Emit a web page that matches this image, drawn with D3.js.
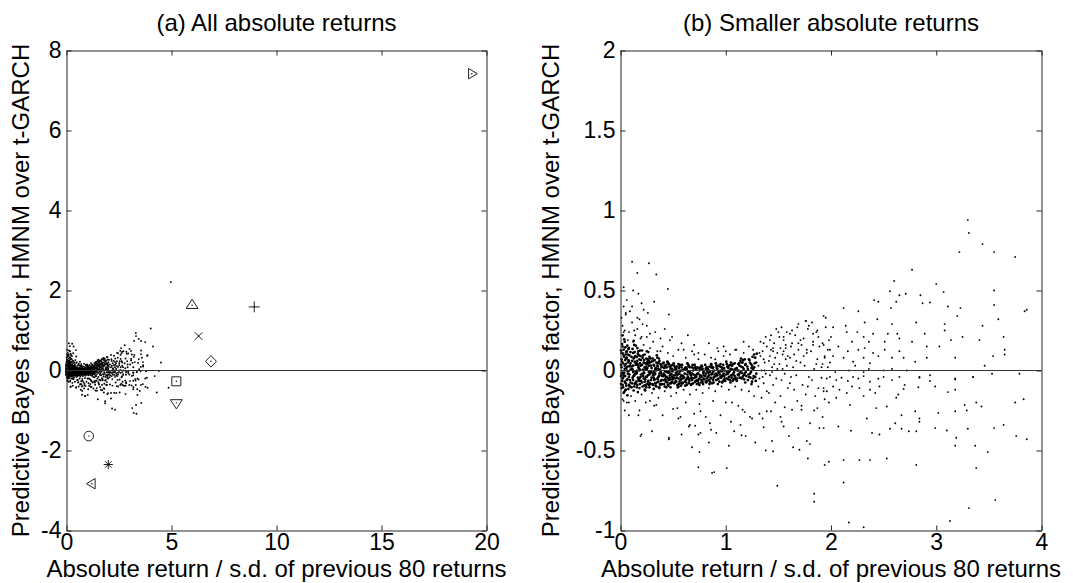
<!DOCTYPE html>
<html>
<head>
<meta charset="utf-8">
<script src="https://cdn.jsdelivr.net/npm/d3@7"></script>
<style>
  body { margin: 0; background: #fff; }
  svg { display: block; font-family: "Liberation Sans", Arial, sans-serif; }
</style>
</head>
<body>
<svg width="1073" height="583"></svg>
<script>
// absolute return / s.d. (x) and predictive Bayes factor (y)

// dense band, x below 0.5
let bandNear = [
  [0.01,0.02],[0.02,-0.05],[0.03,0.09],[0.01,-0.11],[0.04,0.01],[0.05,-0.08],[0.06,0.12],[0.02,0.15],[0.07,-0.02],[0.08,0.06],
  [0.03,-0.03],[0.09,-0.1],[0.05,0.04],[0.06,-0.06],[0.04,0.18],[0.01,0.07],[0.08,-0.04],[0.02,-0.09],[0.07,0.1],[0.09,0.03],
  [0.03,0.13],[0.06,0.0],[0.05,-0.12],[0.01,-0.02],[0.08,0.14],[0.04,-0.07],[0.07,0.05],[0.02,0.22],[0.09,-0.06],[0.06,0.08],
  [0.03,-0.14],[0.05,0.1],[0.08,-0.09],[0.01,0.11],[0.04,0.03],
  [0.11,0.01],[0.12,-0.06],[0.13,0.08],[0.14,-0.02],[0.15,0.04],[0.16,-0.09],[0.17,0.02],[0.18,0.07],[0.19,-0.04],[0.11,-0.08],
  [0.12,0.11],[0.13,-0.03],[0.14,0.05],[0.15,-0.07],[0.16,0.0],[0.17,0.12],[0.18,-0.05],[0.19,0.03],[0.11,0.06],[0.12,-0.01],
  [0.13,-0.1],[0.14,0.09],[0.15,-0.02],[0.16,0.06],[0.17,-0.06],[0.18,0.0],[0.19,0.09],[0.12,0.03],[0.14,-0.08],[0.16,0.14],
  [0.18,-0.11],[0.13,0.16],
  [0.21,-0.02],[0.22,0.05],[0.23,-0.07],[0.24,0.01],[0.25,-0.04],[0.26,0.07],[0.27,-0.01],[0.28,-0.08],[0.29,0.03],[0.21,0.08],
  [0.22,-0.05],[0.23,0.02],[0.24,-0.09],[0.25,0.04],[0.26,-0.03],[0.27,0.06],[0.28,-0.02],[0.29,-0.06],[0.21,-0.1],[0.22,0.0],
  [0.23,0.1],[0.24,-0.04],[0.25,0.01],[0.26,-0.07],[0.27,0.03],[0.28,0.05],[0.29,-0.01],[0.23,-0.12],[0.25,0.12],[0.27,-0.09],
  [0.31,-0.03],[0.32,0.03],[0.33,-0.08],[0.34,0.0],[0.35,-0.05],[0.36,0.05],[0.37,-0.02],[0.38,-0.09],[0.39,0.02],[0.31,0.06],
  [0.32,-0.06],[0.33,0.01],[0.34,-0.1],[0.35,0.03],[0.36,-0.04],[0.37,0.06],[0.38,-0.01],[0.39,-0.06],[0.31,-0.09],[0.33,-0.02],
  [0.35,0.08],[0.36,-0.07],[0.37,-0.11],[0.38,0.04],[0.39,-0.03],[0.32,-0.01],[0.34,0.05],[0.36,0.01],
  [0.41,-0.02],[0.42,0.03],[0.43,-0.07],[0.44,-0.01],[0.45,-0.05],[0.46,0.04],[0.47,-0.03],[0.48,-0.08],[0.49,0.01],[0.41,-0.06],
  [0.42,-0.1],[0.43,0.02],[0.44,-0.04],[0.45,0.05],[0.46,-0.06],[0.47,0.0],[0.48,-0.02],[0.49,-0.07],[0.41,0.05],[0.43,-0.04],
  [0.44,0.02],[0.45,-0.09],[0.46,-0.01],[0.47,-0.08],[0.48,0.03],[0.49,-0.04],[0.42,-0.03]
];

// dense band, x from 0.5 to 1.3
let bandFar = [
  [0.51,-0.03],[0.52,0.02],[0.53,-0.07],[0.54,-0.01],[0.55,-0.05],[0.56,0.03],[0.57,-0.04],[0.58,-0.08],[0.59,0.0],[0.51,-0.08],
  [0.52,-0.05],[0.53,0.01],[0.54,-0.09],[0.55,0.04],[0.56,-0.02],[0.57,-0.06],[0.58,0.02],[0.59,-0.05],[0.51,0.03],[0.53,-0.03],
  [0.55,-0.1],[0.56,-0.07],[0.57,0.0],[0.58,-0.03],[0.59,-0.08],
  [0.61,-0.02],[0.62,-0.06],[0.63,0.01],[0.64,-0.04],[0.65,-0.08],[0.66,0.02],[0.67,-0.03],[0.68,-0.06],[0.69,0.0],[0.61,-0.07],
  [0.62,0.02],[0.63,-0.05],[0.64,-0.01],[0.65,0.03],[0.66,-0.05],[0.67,-0.09],[0.68,-0.02],[0.69,-0.05],[0.61,0.01],[0.63,-0.09],
  [0.64,0.04],[0.66,-0.02],[0.68,0.02],[0.69,-0.08],
  [0.71,-0.03],[0.72,0.01],[0.73,-0.06],[0.74,-0.02],[0.75,-0.05],[0.76,0.02],[0.77,-0.04],[0.78,-0.07],[0.79,-0.01],[0.71,-0.07],
  [0.72,-0.04],[0.73,0.02],[0.74,-0.08],[0.75,0.0],[0.76,-0.03],[0.77,-0.06],[0.78,0.01],[0.79,-0.05],[0.71,0.02],[0.73,-0.02],
  [0.75,-0.09],[0.77,0.03],[0.79,-0.03],
  [0.81,-0.02],[0.82,-0.05],[0.83,0.01],[0.84,-0.03],[0.85,-0.07],[0.86,0.02],[0.87,-0.02],[0.88,-0.06],[0.89,0.0],[0.81,-0.07],
  [0.82,0.02],[0.83,-0.04],[0.84,0.0],[0.85,-0.01],[0.86,-0.05],[0.87,-0.08],[0.88,-0.01],[0.89,-0.04],[0.81,0.01],[0.84,-0.06],
  [0.86,0.04],[0.88,0.02],
  [0.91,-0.02],[0.92,0.01],[0.93,-0.05],[0.94,-0.01],[0.95,-0.04],[0.96,0.02],[0.97,-0.03],[0.98,-0.06],[0.99,0.0],[0.91,-0.06],
  [0.92,-0.03],[0.93,0.03],[0.94,-0.07],[0.95,0.0],[0.96,-0.04],[0.97,0.01],[0.98,-0.02],[0.99,-0.05],[0.91,0.03],[0.93,-0.01],
  [0.95,0.04],[0.97,-0.07],
  [1.01,-0.01],[1.02,0.02],[1.03,-0.04],[1.04,0.0],[1.05,-0.03],[1.06,0.03],[1.07,-0.02],[1.08,-0.05],[1.09,0.01],[1.01,-0.05],
  [1.02,-0.02],[1.03,0.03],[1.04,-0.06],[1.05,0.01],[1.06,-0.03],[1.07,0.04],[1.08,-0.01],[1.09,-0.04],[1.01,0.04],[1.03,-0.01],
  [1.05,0.05],[1.07,-0.06],
  [1.11,0.0],[1.12,-0.03],[1.13,0.03],[1.14,-0.01],[1.15,0.05],[1.16,-0.04],[1.17,0.01],[1.18,-0.02],[1.19,0.04],[1.11,-0.05],
  [1.12,0.04],[1.13,-0.02],[1.14,0.06],[1.15,-0.05],[1.16,0.02],[1.17,-0.03],[1.18,0.07],[1.19,-0.01],[1.12,0.0],[1.16,0.05],
  [1.21,0.01],[1.22,-0.04],[1.23,0.05],[1.24,-0.01],[1.25,0.03],[1.26,-0.05],[1.27,0.02],[1.28,0.08],[1.29,-0.02],[1.21,-0.06],
  [1.22,0.07],[1.23,-0.02],[1.24,0.04],[1.25,-0.07],[1.26,0.01],[1.27,0.1],[1.28,-0.04],[1.29,0.05]
];

// more points filling the same band
let bandFill = [
  [0.005,0.035],[0.015,-0.065],[0.025,0.105],[0.035,-0.015],[0.045,0.065],[0.055,-0.095],[0.065,0.025],[0.075,0.135],[0.085,-0.025],[0.095,0.045],
  [0.005,-0.085],[0.015,0.165],[0.025,-0.045],[0.035,0.085],[0.045,-0.125],[0.055,0.115],[0.065,-0.055],[0.075,-0.005],[0.085,0.095],[0.095,-0.075],
  [0.005,0.125],[0.015,0.055],[0.025,-0.105],[0.035,0.195],[0.045,-0.035],[0.055,0.015],[0.065,0.155],[0.075,-0.115],[0.085,0.025],[0.095,0.115],
  [0.005,-0.035],[0.015,-0.015],[0.025,0.045],[0.035,-0.135],[0.045,0.145],[0.055,0.075],[0.065,-0.155],[0.075,0.065],[0.085,-0.095],[0.095,0.005],
  [0.105,0.025],[0.115,-0.045],[0.125,0.075],[0.135,-0.085],[0.145,0.035],[0.155,-0.015],[0.165,0.105],[0.175,-0.065],[0.185,0.045],[0.195,-0.025],
  [0.105,-0.105],[0.115,0.135],[0.125,-0.035],[0.135,0.055],[0.145,-0.075],[0.155,0.085],[0.165,-0.045],[0.175,0.015],[0.185,-0.085],[0.195,0.065],
  [0.105,0.085],[0.115,0.005],[0.125,-0.125],[0.135,0.115],[0.145,-0.005],[0.155,-0.105],[0.165,0.035],[0.175,0.095],[0.185,0.005],[0.195,-0.065],
  [0.125,0.185],[0.145,0.155],[0.165,-0.135],[0.185,0.125],[0.155,0.045],
  [0.205,0.035],[0.215,-0.035],[0.225,0.065],[0.235,-0.055],[0.245,0.025],[0.255,-0.085],[0.265,0.045],[0.275,-0.025],[0.285,0.075],[0.295,-0.045],
  [0.205,-0.075],[0.215,0.095],[0.225,-0.015],[0.235,0.045],[0.245,-0.105],[0.255,0.015],[0.265,-0.065],[0.275,0.085],[0.285,-0.085],[0.295,0.015],
  [0.205,0.125],[0.225,-0.095],[0.245,0.075],[0.265,0.115],[0.285,-0.005],[0.215,0.005],[0.235,-0.125],[0.255,0.055],[0.275,-0.105],[0.295,0.055],
  [0.305,-0.015],[0.315,0.035],[0.325,-0.055],[0.335,0.015],[0.345,-0.075],[0.355,0.045],[0.365,-0.035],[0.375,0.005],[0.385,-0.065],[0.395,0.025],
  [0.305,-0.085],[0.315,-0.045],[0.325,0.065],[0.335,-0.095],[0.345,0.005],[0.355,-0.055],[0.365,0.075],[0.375,-0.085],[0.385,0.035],[0.395,-0.035],
  [0.305,0.075],[0.325,-0.025],[0.345,0.095],[0.365,-0.105],[0.385,-0.015],[0.315,-0.115],[0.355,0.025],[0.395,-0.085],
  [0.405,-0.035],[0.415,0.015],[0.425,-0.055],[0.435,0.035],[0.445,-0.075],[0.455,-0.015],[0.465,0.025],[0.475,-0.055],[0.485,-0.025],[0.495,0.035],
  [0.405,0.045],[0.415,-0.085],[0.425,-0.005],[0.435,-0.065],[0.445,0.055],[0.455,-0.095],[0.465,-0.045],[0.475,0.015],[0.485,-0.075],[0.495,-0.055],
  [0.415,-0.025],[0.435,-0.105],[0.455,0.045],[0.475,-0.105],[0.495,-0.005],
  [0.505,-0.045],[0.515,0.005],[0.525,-0.065],[0.535,0.025],[0.545,-0.025],[0.555,-0.085],[0.565,-0.005],[0.575,-0.055],[0.585,0.035],[0.595,-0.035],
  [0.505,0.045],[0.525,-0.015],[0.545,-0.105],[0.565,0.035],[0.585,-0.075],[0.515,-0.075],[0.535,-0.045],[0.555,0.015],[0.575,-0.095],[0.595,0.005],
  [0.605,-0.045],[0.615,0.015],[0.625,-0.075],[0.635,-0.025],[0.645,0.025],[0.655,-0.065],[0.665,-0.015],[0.675,-0.045],[0.685,0.035],[0.695,-0.025],
  [0.615,-0.095],[0.635,0.045],[0.655,-0.005],[0.675,-0.085],[0.695,0.015],[0.645,-0.055],
  [0.705,-0.045],[0.715,0.005],[0.725,-0.025],[0.735,-0.065],[0.745,0.015],[0.755,-0.035],[0.765,-0.075],[0.775,0.025],[0.785,-0.015],[0.795,-0.055],
  [0.705,0.035],[0.725,-0.085],[0.745,-0.055],[0.765,0.005],[0.785,-0.085],[0.715,-0.065],
  [0.805,-0.035],[0.815,0.015],[0.825,-0.065],[0.835,-0.015],[0.845,0.025],[0.855,-0.045],[0.865,-0.025],[0.875,0.015],[0.885,-0.075],[0.895,-0.025],
  [0.805,0.035],[0.825,-0.005],[0.845,-0.085],[0.865,0.035],[0.885,-0.045],[0.815,-0.075],
  [0.905,-0.035],[0.915,0.015],[0.925,-0.055],[0.935,-0.015],[0.945,0.025],[0.955,-0.045],[0.965,-0.005],[0.975,0.035],[0.985,-0.035],[0.995,-0.065],
  [0.905,0.045],[0.925,-0.085],[0.945,-0.025],[0.965,-0.075],[0.985,0.015],
  [1.005,-0.025],[1.015,0.025],[1.025,-0.055],[1.035,-0.005],[1.045,0.035],[1.055,-0.045],[1.065,0.005],[1.075,-0.025],[1.085,0.045],[1.095,-0.055],
  [1.005,0.055],[1.025,0.015],[1.045,-0.075],[1.065,-0.065],[1.085,-0.035],
  [1.105,0.015],[1.115,-0.025],[1.125,0.045],[1.135,-0.045],[1.145,0.025],[1.155,-0.015],[1.165,0.065],[1.175,-0.055],[1.185,0.035],[1.195,-0.035],
  [1.105,-0.065],[1.145,0.075],[1.185,-0.075],
  [1.205,0.025],[1.215,-0.025],[1.225,0.065],[1.235,-0.045],[1.245,0.015],[1.255,0.085],[1.265,-0.035],[1.275,0.045],[1.285,-0.065],[1.295,0.105],
  [1.245,-0.085]
];

// scatter above the band
let upperSpread = [
  [0.05,0.36],[0.11,0.4],[0.16,0.33],[0.22,0.38],[0.25,0.28],[0.32,0.43],[0.46,0.35],[0.03,0.24],[0.13,0.25],[0.2,0.21],
  [0.28,0.23],[0.38,0.2],[0.49,0.21],[0.6,0.13],[0.7,0.16],[0.74,0.11],[0.84,0.17],[0.92,0.14],[0.98,0.15],[1.09,0.13],
  [1.17,0.18],[1.26,0.13],[1.36,0.17],[1.42,0.19],[1.5,0.24],[1.55,0.21],[1.61,0.23],[1.68,0.27],[1.76,0.31],[1.79,0.28],
  [1.83,0.23],[1.87,0.25],[1.69,0.17],[1.57,0.14],[1.45,0.12],[1.77,0.13],[1.83,0.16],
  [0.02,0.28],[0.05,0.35],[0.08,0.24],[0.03,0.4],[0.11,0.3],[0.14,0.22],[0.07,0.19],[0.01,0.33],[0.16,0.26],[0.19,0.2],
  [0.04,0.25],[0.09,0.37],[0.12,0.18],[0.22,0.16],[0.25,0.21],[0.18,0.32],[0.06,0.44],[0.28,0.14],[0.31,0.18],[0.35,0.12],
  [0.4,0.15],[0.45,0.11],[0.33,0.24],[0.21,0.29],[0.38,0.12],[0.5,0.09],[0.55,0.13],[0.62,0.08],[0.68,0.12],[0.74,0.07],
  [0.8,0.1],[0.86,0.08],[0.93,0.12],[0.98,0.09],[1.04,0.1],[1.1,0.13],[1.17,0.11],[1.22,0.15],[0.58,0.17],[0.47,0.19],
  [0.7,0.1],[0.9,0.07],[1.0,0.12],[0.26,0.36],[0.42,0.26],[0.12,0.5],[0.03,0.52],[0.64,0.22],[0.2,0.42],[0.17,0.48],
  [0.11,0.68],[0.27,0.67],[0.16,0.61],[0.34,0.6],[0.45,0.51]
];

// scatter below the band
let lowerSpread = [
  [0.02,-0.18],[0.06,-0.2],[0.1,-0.16],[0.14,-0.19],[0.04,-0.25],[0.2,-0.15],[0.24,-0.2],[0.3,-0.14],[0.36,-0.17],[0.42,-0.13],
  [0.48,-0.16],[0.53,-0.14],[0.6,-0.12],[0.66,-0.15],[0.72,-0.12],[0.78,-0.14],[0.84,-0.11],[0.9,-0.13],[0.96,-0.1],[1.03,-0.12],
  [1.09,-0.1],[1.15,-0.12],[1.22,-0.13],[1.27,-0.16],[0.08,-0.28],[0.18,-0.25],[0.32,-0.22],[0.5,-0.24],[0.62,-0.2],[0.75,-0.21],
  [0.88,-0.19],[1.0,-0.2],[1.12,-0.22],[0.55,-0.3],[0.7,-0.27],[0.95,-0.28],[1.18,-0.26],[0.4,-0.28],[0.28,-0.31],[0.85,-0.33],
  [0.65,-0.35],[1.05,-0.32],[1.25,-0.3],
  [0.03,-0.19],[0.08,-0.2],[0.17,-0.28],[0.2,-0.4],[0.28,-0.19],[0.34,-0.215],[0.46,-0.42],[0.54,-0.235],[0.57,-0.29],[0.66,-0.34],
  [0.71,-0.345],[0.74,-0.4],[0.76,-0.255],[0.81,-0.29],[0.84,-0.45],[0.86,-0.37],[0.91,-0.39],[1.03,-0.47],[1.06,-0.2],[1.14,-0.34],
  [1.15,-0.405],[1.19,-0.41],[1.16,-0.245],[1.23,-0.29],[1.28,-0.45],[0.74,-0.605],[0.89,-0.635],[1.01,-0.61],[0.68,-0.48],[0.76,-0.39],
  [0.19,-0.41],[0.46,-0.43],[0.75,-0.51],[0.87,-0.64],[1.08,-0.38],[0.58,-0.4],[0.3,-0.38]
];

// x from 1.3 to 2
let midCloud = [
  [1.31,0.03],[1.32,-0.05],[1.33,0.09],[1.34,0.0],[1.35,0.12],[1.36,-0.08],[1.37,0.05],[1.38,-0.02],[1.39,0.15],[1.31,-0.1],
  [1.33,0.18],[1.35,-0.04],[1.36,0.07],[1.38,0.21],[1.39,-0.13],[1.32,0.11],[1.34,-0.17],[1.37,0.0],
  [1.41,0.06],[1.42,-0.03],[1.43,0.13],[1.44,0.02],[1.45,-0.09],[1.46,0.17],[1.47,0.08],[1.48,-0.05],[1.49,0.11],[1.41,-0.14],
  [1.43,0.22],[1.44,-0.01],[1.46,0.04],[1.47,-0.2],[1.48,0.26],[1.49,0.01],[1.42,0.09],[1.45,0.14],
  [1.51,0.04],[1.52,0.14],[1.53,-0.06],[1.54,0.1],[1.55,0.19],[1.56,-0.02],[1.57,0.07],[1.58,0.24],[1.59,-0.11],[1.51,0.21],
  [1.52,-0.16],[1.54,0.01],[1.55,0.12],[1.56,-0.23],[1.57,0.16],[1.58,0.03],[1.59,0.09],[1.53,0.27],
  [1.61,0.08],[1.62,-0.04],[1.63,0.17],[1.64,0.02],[1.65,-0.12],[1.66,0.22],[1.67,0.06],[1.68,-0.19],[1.69,0.13],[1.61,-0.08],
  [1.63,0.25],[1.65,0.1],[1.67,-0.03],[1.69,0.29],[1.62,0.15],
  [1.71,0.05],[1.72,0.16],[1.73,-0.09],[1.74,0.2],[1.75,0.03],[1.76,-0.15],[1.77,0.11],[1.78,0.26],[1.79,-0.04],[1.72,-0.22],
  [1.74,0.09],[1.76,0.31],[1.78,-0.1],[1.71,0.19],
  [1.81,0.12],[1.82,-0.06],[1.83,0.18],[1.84,0.01],[1.85,-0.16],[1.86,0.24],[1.87,0.07],[1.88,-0.11],[1.89,0.15],[1.82,0.3],
  [1.84,-0.25],[1.86,0.04],[1.88,0.21],
  [1.91,0.02],[1.92,0.17],[1.93,-0.13],[1.94,0.09],[1.95,0.27],[1.96,-0.05],[1.97,0.13],[1.98,-0.2],[1.99,0.05],[1.92,-0.29],
  [1.95,0.33],[1.98,0.19],
  [1.32,-0.27],[1.36,-0.355],[1.39,-0.255],[1.43,-0.255],[1.45,-0.505],[1.52,-0.29],[1.53,-0.32],[1.6,-0.41],[1.63,-0.245],[1.69,-0.36],
  [1.7,-0.495],[1.72,-0.245],[1.77,-0.44],[1.8,-0.46],[1.78,-0.55],[1.87,-0.235],[1.89,-0.36],[1.38,-0.5],[1.44,-0.44],[1.49,-0.72],
  [1.64,-0.48],[1.84,-0.77],[1.84,-0.82],[1.98,-0.57],[1.55,-0.35],[1.35,-0.3],[1.8,-0.33],[1.93,-0.36]
];

// x from 2 to 4
let outerCloud = [
  [2.12,0.39],[2.26,0.37],[2.57,0.39],[2.62,0.43],[2.87,0.42],[3.11,0.4],[3.23,0.39],[3.55,0.41],
  [1.93,0.34],[2.14,0.28],[2.32,0.3],[2.44,0.32],[2.58,0.29],[2.81,0.3],[3.08,0.29],[3.2,0.34],[3.44,0.28],[3.59,0.32],
  [2.02,0.27],[2.15,0.24],[2.25,0.24],[2.0,0.21],[2.31,0.21],[2.4,0.23],[2.54,0.23],[2.63,0.23],[2.89,0.23],[3.08,0.25],
  [3.25,0.21],[3.64,0.21],[2.2,0.18],[2.36,0.18],[2.51,0.18],[2.65,0.2],[2.77,0.18],[3.14,0.19],[3.41,0.19],
  [1.93,0.16],[1.99,0.13],[2.07,0.15],[2.16,0.12],[2.26,0.13],[2.32,0.14],[2.4,0.11],[2.51,0.13],[2.65,0.12],[2.91,0.15],
  [3.03,0.15],[3.65,0.13],[1.94,0.08],[2.02,0.09],[2.12,0.08],[2.21,0.055],[2.31,0.08],[2.37,0.045],[2.45,0.09],[2.58,0.08],
  [2.69,0.08],[2.8,0.055],[2.91,0.08],[3.18,0.08],[3.46,0.03],[3.54,0.09],[3.65,0.1],
  [1.92,0.04],[1.97,0.02],[2.04,-0.01],[2.17,0.0],[2.23,0.03],[2.31,-0.01],[2.36,0.01],[2.5,0.0],[2.58,0.01],[2.72,0.0],
  [2.84,-0.04],[2.94,-0.03],[3.18,-0.05],[3.35,-0.04],[3.53,-0.02],[3.79,-0.02],
  [3.3,0.94],[3.31,0.86],[3.44,0.79],[3.22,0.74],[3.55,0.74],[3.75,0.71],[2.77,0.63],[2.6,0.56],[3.0,0.54],[3.07,0.49],
  [3.55,0.5],[2.56,0.495],[2.65,0.47],[2.71,0.48],[2.85,0.47],[2.41,0.44],[2.45,0.43],[2.94,0.425],[3.86,0.38],[3.84,0.37],
  [1.91,-0.045],[1.99,-0.04],[2.05,-0.06],[2.1,-0.045],[2.16,-0.065],[2.21,-0.04],[2.26,-0.05],[2.31,-0.035],[2.37,-0.07],[2.45,-0.052],
  [2.5,-0.04],[2.58,-0.06],[2.65,-0.04],[2.7,-0.09],[2.84,-0.045],[2.94,-0.065],[3.18,-0.057],[3.35,-0.04],
  [1.93,-0.11],[1.96,-0.13],[2.02,-0.1],[2.08,-0.12],[2.15,-0.14],[2.2,-0.1],[2.27,-0.11],[2.37,-0.12],[2.42,-0.14],[2.46,-0.1],
  [2.64,-0.15],[2.69,-0.115],[2.83,-0.105],[2.99,-0.1],[3.11,-0.135],[3.18,-0.12],[3.27,-0.215],
  [1.94,-0.18],[2.05,-0.17],[2.18,-0.215],[2.31,-0.16],[2.43,-0.235],[2.53,-0.225],[2.62,-0.17],[2.67,-0.28],[2.8,-0.255],[2.84,-0.3],
  [3.02,-0.265],[3.1,-0.375],[3.18,-0.255],[3.38,-0.2],[3.43,-0.225],[3.64,-0.34],[3.76,-0.41],
  [2.07,-0.35],[2.19,-0.377],[2.34,-0.3],[2.39,-0.39],[2.46,-0.4],[2.56,-0.364],[2.61,-0.33],[2.67,-0.364],[2.74,-0.38],[2.81,-0.38],
  [2.84,-0.32],[2.99,-0.36],[3.19,-0.42],[3.18,-0.47],[3.3,-0.364],[3.37,-0.47],[3.49,-0.51],[3.38,-0.61],[2.81,-0.59],[2.53,-0.55],
  [2.37,-0.56],[2.27,-0.56],[2.12,-0.56],[1.94,-0.59],[3.29,-0.25],[3.55,-0.36],[3.86,-0.43],[3.83,-0.18],[3.75,-0.2],
  [3.13,-0.94],[3.31,-0.86],[3.56,-0.81],[2.31,-0.98],[2.17,-0.95],[2.12,-0.7]
];

// points only inside the wider panel (a)
let widePoints = [
  [4.97,2.21],[4.01,1.05],[4.4,-0.01],[4.2,-0.14],[4.86,-0.43],[3.2,-1.06],[3.33,-1.08],[4.12,0.6],[4.5,0.2],[4.3,-0.55]
];

// highlighted returns in panel (a)
let markerX = [1.06, 1.21, 1.99, 5.23, 5.23, 5.98, 6.29, 6.88, 8.94, 19.3];
let markerY = [-1.64, -2.83, -2.35, -0.27, -0.81, 1.63, 0.86, 0.23, 1.59, 7.42];
let markerShape = ['o', '<', '*', 's', 'v', '^', 'x', 'd', '+', '>'];

let xTicksA = [0, 5, 10, 15, 20];
let yTicksA = [-4, -2, 0, 2, 4, 6, 8];
let xTicksB = [0, 1, 2, 3, 4];
let yTicksB = [-1, -0.5, 0, 0.5, 1, 1.5, 2];

let titles = ['(a) All absolute returns', '(b) Smaller absolute returns'];
let xLabel = 'Absolute return / s.d. of previous 80 returns';
let yLabel = 'Predictive Bayes factor, HMNM over t-GARCH';

function markerPath(shape) {
    let p = d3.path();
    if (shape === 'o') { p.moveTo(4.8, 0); p.arc(0, 0, 4.8, 0, 2 * Math.PI); }
    else if (shape === 's') { p.rect(-4.5, -4.5, 9, 9); }
    else if (shape === 'd') { p.moveTo(0, -5.8); p.lineTo(5.4, 0); p.lineTo(0, 5.8); p.lineTo(-5.4, 0); p.closePath(); }
    else if (shape === '^') { p.moveTo(0, -6); p.lineTo(6, 3.2); p.lineTo(-6, 3.2); p.closePath(); }
    else if (shape === 'v') { p.moveTo(0, 6); p.lineTo(6, -3.2); p.lineTo(-6, -3.2); p.closePath(); }
    else if (shape === '<') { p.moveTo(-5.5, 0); p.lineTo(3.2, -5.2); p.lineTo(3.2, 5.2); p.closePath(); }
    else if (shape === '>') { p.moveTo(5.5, 0); p.lineTo(-3.2, -5.2); p.lineTo(-3.2, 5.2); p.closePath(); }
    else if (shape === '+') { p.moveTo(-5.5, 0); p.lineTo(5.5, 0); p.moveTo(0, -5.5); p.lineTo(0, 5.5); }
    else if (shape === 'x') { p.moveTo(-3.8, -3.8); p.lineTo(3.8, 3.8); p.moveTo(-3.8, 3.8); p.lineTo(3.8, -3.8); }
    else if (shape === '*') {
        p.moveTo(-4.6, 0); p.lineTo(4.6, 0); p.moveTo(0, -4.6); p.lineTo(0, 4.6);
        p.moveTo(-3.3, -3.3); p.lineTo(3.3, 3.3); p.moveTo(-3.3, 3.3); p.lineTo(3.3, -3.3);
    }
    return p.toString();
}

document.addEventListener('DOMContentLoaded', function() {
    let svg = d3.select('svg');

    let top = 50.5, plotH = 480, fontSize = 24, tickFont = 23;

    // the dense band holds far more returns than are listed, so its dots are drawn a little larger
    let groups = [
        { pts: bandNear.concat(bandFar, bandFill), r: 1.35 },
        { pts: upperSpread.concat(lowerSpread, midCloud, outerCloud, widePoints), r: 0.95 }
    ];

    let panels = [
        { left: 66.5, width: 420, xDomain: [0, 20], yDomain: [-4, 8], xTicks: xTicksA, yTicks: yTicksA, yLabelX: 29, markers: true },
        { left: 620.5, width: 421, xDomain: [0, 4], yDomain: [-1, 2], xTicks: xTicksB, yTicks: yTicksB, yLabelX: 559, markers: false }
    ];

    panels.forEach(function(p, i) {
        let x = d3.scaleLinear().domain(p.xDomain).range([p.left, p.left + p.width]);
        let y = d3.scaleLinear().domain(p.yDomain).range([top + plotH, top]);
        let g = svg.append('g').attr('class', 'panel');
        let inside = d => d[0] >= p.xDomain[0] && d[0] <= p.xDomain[1] && d[1] >= p.yDomain[0] && d[1] <= p.yDomain[1];

        // scatter
        groups.forEach(function(grp) {
            g.append('g').attr('class', 'dots')
                .selectAll('circle')
                .data(grp.pts.filter(inside))
                .join('circle')
                .attr('cx', d => x(d[0]))
                .attr('cy', d => y(d[1]))
                .attr('r', grp.r)
                .attr('fill', '#000');
        });

        // zero line
        g.append('line')
            .attr('x1', p.left).attr('x2', p.left + p.width)
            .attr('y1', y(0)).attr('y2', y(0))
            .attr('stroke', '#333').attr('stroke-width', 1.1);

        if (p.markers) {
            let idx = d3.range(markerX.length);
            let mg = g.append('g').attr('class', 'markers');
            mg.selectAll('path')
                .data(idx)
                .join('path')
                .attr('transform', k => `translate(${x(markerX[k])},${y(markerY[k])})`)
                .attr('d', k => markerPath(markerShape[k]))
                .attr('fill', 'none')
                .attr('stroke', '#222')
                .attr('stroke-width', 1);
            mg.selectAll('circle')
                .data(idx)
                .join('circle')
                .attr('cx', k => x(markerX[k]))
                .attr('cy', k => y(markerY[k]))
                .attr('r', 0.7)
                .attr('fill', '#000');
        }

        // axes: ticks point inward on all four sides
        let fmt = d => String(d);
        let styleAxis = function(a) {
            a.attr('font-family', null).attr('font-size', null);
            a.select('.domain').attr('stroke', '#262626');
            a.selectAll('.tick line').attr('stroke', '#262626');
            a.selectAll('text').attr('fill', '#000').style('font-size', tickFont + 'px');
        };
        g.append('g').attr('transform', `translate(0,${top + plotH})`)
            .call(d3.axisBottom(x).tickValues(p.xTicks).tickFormat(fmt).tickSize(-5).tickSizeOuter(0).tickPadding(3.5))
            .call(styleAxis);
        g.append('g').attr('transform', `translate(0,${top})`)
            .call(d3.axisTop(x).tickValues(p.xTicks).tickFormat('').tickSize(-5).tickSizeOuter(0))
            .call(styleAxis);
        g.append('g').attr('transform', `translate(${p.left},0)`)
            .call(d3.axisLeft(y).tickValues(p.yTicks).tickFormat(fmt).tickSize(-5).tickSizeOuter(0).tickPadding(5))
            .call(styleAxis);
        g.append('g').attr('transform', `translate(${p.left + p.width},0)`)
            .call(d3.axisRight(y).tickValues(p.yTicks).tickFormat('').tickSize(-5).tickSizeOuter(0))
            .call(styleAxis);

        // titles and labels
        g.append('text')
            .attr('x', p.left + p.width / 2).attr('y', 31)
            .attr('text-anchor', 'middle')
            .style('font-size', fontSize + 'px')
            .text(titles[i]);
        g.append('text')
            .attr('x', p.left + p.width / 2).attr('y', 577)
            .attr('text-anchor', 'middle')
            .style('font-size', fontSize + 'px')
            .text(xLabel);
        g.append('text')
            .attr('transform', `translate(${p.yLabelX},${top + plotH / 2}) rotate(-90)`)
            .attr('text-anchor', 'middle')
            .style('font-size', fontSize + 'px')
            .text(yLabel);
    });
});
</script>
</body>
</html>
